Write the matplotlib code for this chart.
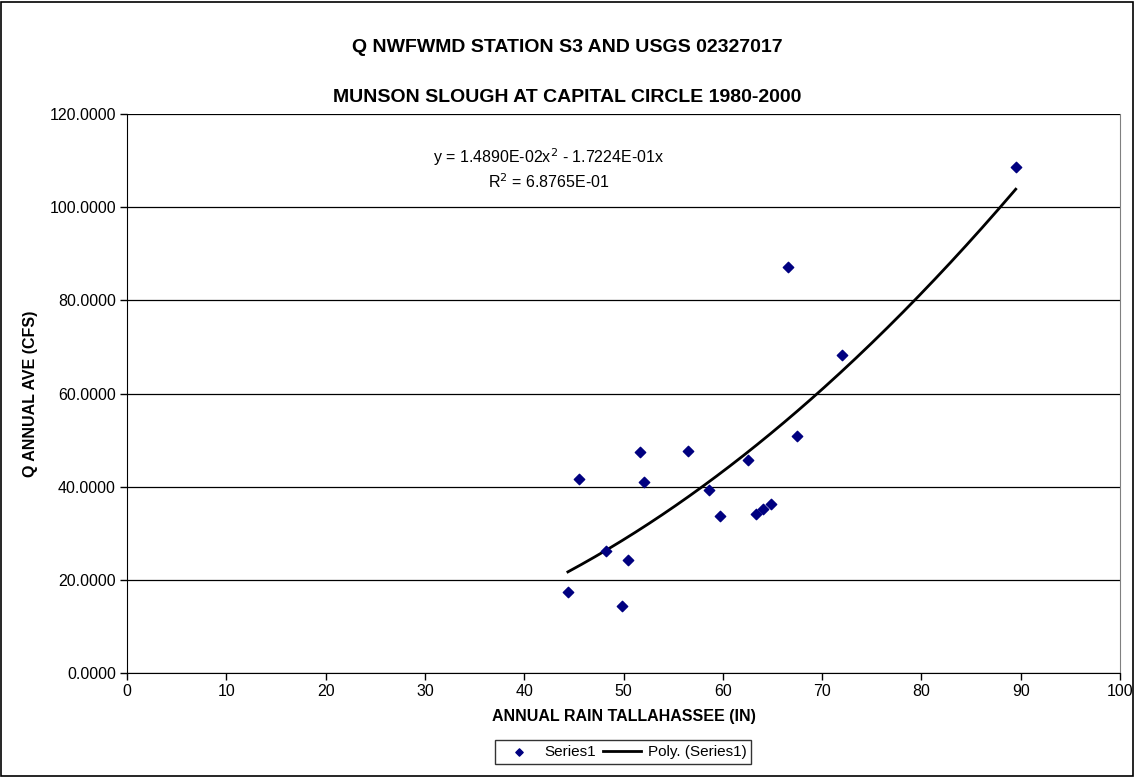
import numpy as np
import matplotlib.pyplot as plt
from matplotlib.patches import Rectangle

plt.rcParams['font.family'] = ['Liberation Sans', 'DejaVu Sans']

# annual rain (in) vs annual average flow (cfs)
rain = [44.4, 45.5, 48.2, 49.8, 50.5, 51.7, 52.1, 56.5, 58.6, 59.7,
        62.5, 63.3, 64.0, 64.9, 66.6, 67.5, 72.0, 89.5]
flow = [17.3, 41.6, 26.2, 14.3, 24.3, 47.4, 40.9, 47.6, 39.3, 33.6,
        45.8, 34.1, 35.2, 36.3, 87.2, 50.9, 68.2, 108.6]

# Excel poly trendline coefficients (order 2, intercept 0)
c2 = 1.4890e-02
c1 = -1.7224e-01

fig = plt.figure(figsize=(11.35, 7.77), dpi=100)
ax = fig.add_axes([127/1135, 1 - 673/777, (1120-127)/1135, (673-114)/777])

ax.scatter(rain, flow, marker='D', s=28, color='#000080', zorder=3, label='Series1')
xs = np.linspace(min(rain), max(rain), 200)
ax.plot(xs, c2*xs**2 + c1*xs, color='black', lw=2, zorder=2, label='Poly. (Series1)')

ax.set_xlim(0, 100)
ax.set_ylim(0, 120)
ax.set_xticks(np.arange(0, 101, 10))
ax.set_yticks(np.arange(0, 121, 20))
ax.set_yticklabels(['%.4f' % v for v in np.arange(0, 121, 20)])
ax.yaxis.grid(True, color='black', lw=0.9)
ax.set_axisbelow(True)
ax.tick_params(direction='out', length=5, width=1, labelsize=11.5, colors='black', pad=3)
ax.spines['top'].set_visible(False)
ax.spines['right'].set_color('#808080')

ax.set_xlabel('ANNUAL RAIN TALLAHASSEE (IN)', fontsize=11.5, fontweight='bold', labelpad=7)
ax.set_ylabel('Q ANNUAL AVE (CFS)', fontsize=11.5, fontweight='bold', labelpad=8)

fig.text(567/1135, 1 - 47/777, 'Q NWFWMD STATION S3 AND USGS 02327017',
         ha='center', va='center', fontsize=14, fontweight='bold')
fig.text(567/1135, 1 - 97/777, 'MUNSON SLOUGH AT CAPITAL CIRCLE 1980-2000',
         ha='center', va='center', fontsize=14, fontweight='bold')

ax.text(42.5, 108.3, 'y = 1.4890E-02x$^2$ - 1.7224E-01x\nR$^2$ = 6.8765E-01',
        ha='center', va='center', fontsize=11.5, linespacing=1.25)

leg = fig.legend(loc='center', bbox_to_anchor=(623/1135, 1 - 752/777), ncol=2,
                 fontsize=11, frameon=True, fancybox=False, edgecolor='black',
                 handlelength=2.5, columnspacing=0.5, handletextpad=0.4,
                 borderpad=0.3, markerscale=0.7)
leg.get_frame().set_linewidth(1)

fig.patches.append(Rectangle((0.001, 0.001), 0.997, 0.997, transform=fig.transFigure,
                             fill=False, edgecolor='black', lw=1.2))

fig.savefig('out.png', dpi=100)
